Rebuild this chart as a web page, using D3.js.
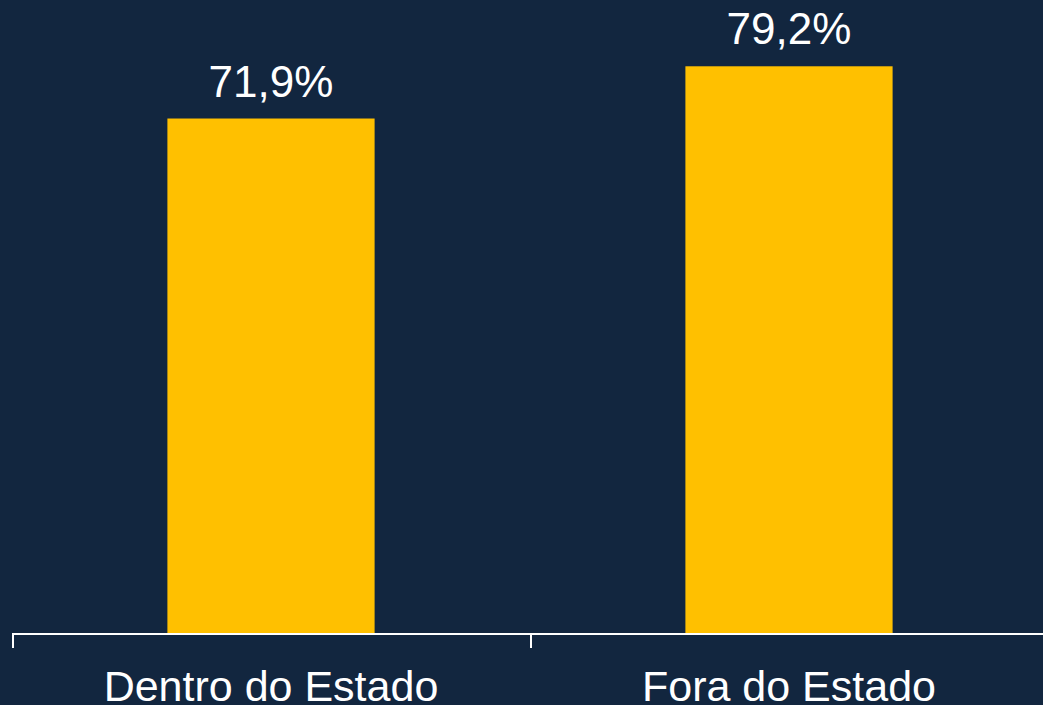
<!DOCTYPE html>
<html>
<head>
<meta charset="utf-8">
<script src="https://cdn.jsdelivr.net/npm/d3@7"></script>
<style>
  html, body { margin: 0; padding: 0; background: #12263f; overflow: hidden; }
</style>
</head>
<body>
<div id="container"></div>
<script>
const categories = ["Dentro do Estado", "Fora do Estado"];
const values = [71.9, 79.2];
const valueLabels = ["71,9%", "79,2%"];

const width = 1043, height = 705;

const svg = d3.select("div#container")
    .append("svg")
    .attr("width", width)
    .attr("height", height);

svg.append("rect")
    .attr("width", width)
    .attr("height", height)
    .attr("fill", "#12263f");

const x = d3.scaleBand()
    .domain(categories)
    .range([12, 1048])
    .paddingInner(0.6)
    .paddingOuter(0.3);

const y = d3.scaleLinear()
    .domain([0, 90])
    .range([633, -11]);

svg.append("g")
    .selectAll()
    .data(categories)
    .join("rect")
    .attr("x", d => x(d))
    .attr("y", (d, i) => y(values[i]))
    .attr("width", x.bandwidth())
    .attr("height", (d, i) => y(0) - y(values[i]))
    .attr("fill", "#FFC000");

svg.append("g")
    .attr("font-family", "Liberation Sans, Arial, sans-serif")
    .attr("font-size", 44)
    .attr("fill", "#ffffff")
    .attr("text-anchor", "middle")
    .selectAll()
    .data(categories)
    .join("text")
    .attr("x", d => x(d) + x.bandwidth() / 2)
    .attr("y", (d, i) => y(values[i]) - 22)
    .text((d, i) => valueLabels[i]);

// axis: line with ticks at band boundaries
const axis = svg.append("g")
    .attr("stroke", "#ffffff")
    .attr("stroke-width", 2);
axis.append("line")
    .attr("x1", 12).attr("x2", width)
    .attr("y1", 634).attr("y2", 634);
const bounds = [13, 13 + (1049 - 13) / 2];
axis.selectAll(".tk")
    .data(bounds)
    .join("line")
    .attr("x1", d => d).attr("x2", d => d)
    .attr("y1", 634).attr("y2", 648);

svg.append("g")
    .attr("font-family", "Liberation Sans, Arial, sans-serif")
    .attr("font-size", 43)
    .attr("fill", "#ffffff")
    .attr("text-anchor", "middle")
    .selectAll()
    .data(categories)
    .join("text")
    .attr("x", d => x(d) + x.bandwidth() / 2)
    .attr("y", 701)
    .text(d => d);
</script>
</body>
</html>
